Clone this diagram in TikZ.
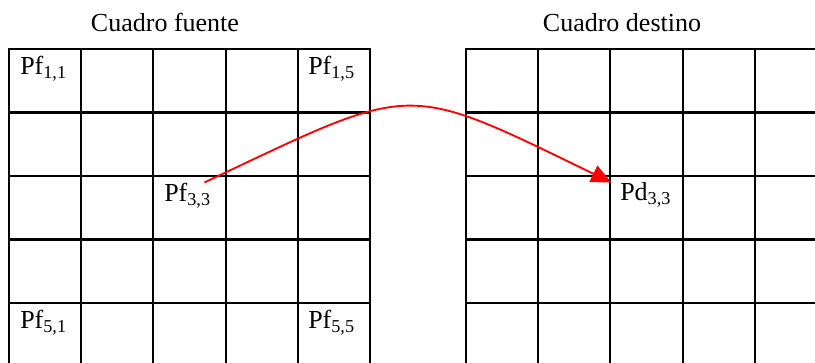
\documentclass[tikz,border=0pt]{standalone}
\usepackage{fontspec}
\setmainfont{Liberation Serif}
\usetikzlibrary{arrows.meta, positioning}

\begin{document}
\begin{tikzpicture}[
        x=0.75pt, y=-0.75pt,
        font=\fontsize{19.5}{23}\selectfont,
        grd/.style={draw=black, line width=1.6pt, line cap=rect},
        lbl/.style={anchor=north west, inner sep=0pt},
        ttl/.style={anchor=base},
        arr/.style={-{Triangle[length=15pt, width=13.5pt]}, red, line width=1.4pt},
      ]
        \useasboundingbox (0,0) rectangle (815,363);
        % cuadro fuente
        \foreach \i in {0,...,5}
          \draw[grd] (9+72.2*\i,49) -- (9+72.2*\i,363);
        \foreach \j in {0,...,4}
          \draw[grd] (9,49+63.5*\j) -- (370,49+63.5*\j);
        % cuadro destino
        \foreach \i in {0,...,4}
          \draw[grd] (466+72.2*\i,49) -- (466+72.2*\i,363);
        \foreach \j in {0,...,4}
          \draw[grd] (466,49+63.5*\j) -- (815,49+63.5*\j);
        \node[ttl] (tfuente)  at (165,32) {Cuadro fuente};
        \node[ttl] (tdestino) at (622,32) {Cuadro destino};
        \node[lbl] (pf11) at (20,55.5)   {Pf\textsubscript{1,1}};
        \node[lbl] (pf15) at (308,55.5)  {Pf\textsubscript{1,5}};
        \node[lbl] (pf33) at (164,182.5) {Pf\textsubscript{3,3}};
        \node[lbl] (pf51) at (20,309.5)  {Pf\textsubscript{5,1}};
        \node[lbl] (pf55) at (308,309.5) {Pf\textsubscript{5,5}};
        \node[lbl] (pd33) at (620,182.5) {Pd\textsubscript{3,3}};
        \draw[arr] ([xshift=-5pt]pf33.north east) .. controls +(212,-100) and +(-210,-102) .. ([xshift=-6.5pt]pd33.north west);
      \end{tikzpicture}
\end{document}
